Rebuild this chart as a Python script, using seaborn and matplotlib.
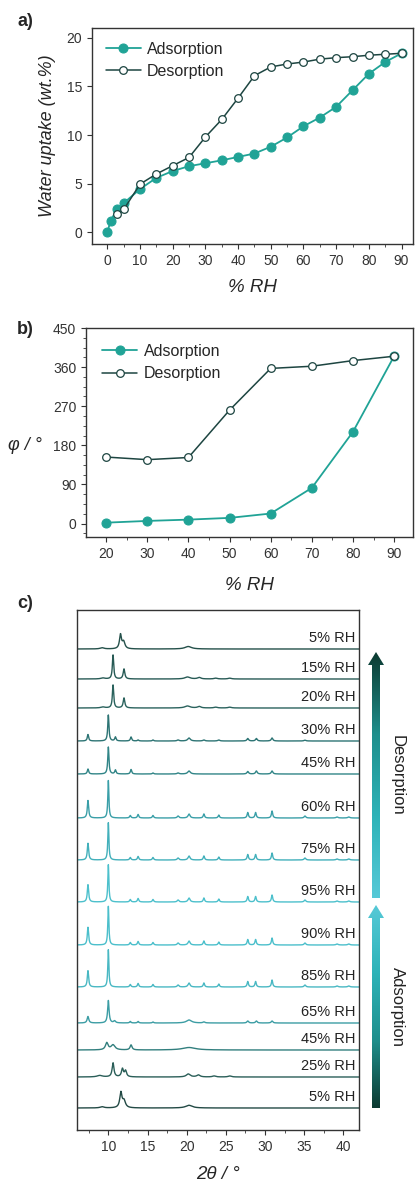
import numpy as np
import pandas as pd
import matplotlib
matplotlib.use("Agg")
import matplotlib.pyplot as plt
import seaborn as sns
from matplotlib.patches import Polygon
from matplotlib.ticker import MultipleLocator
from matplotlib.colors import LinearSegmentedColormap

sns.set_style("ticks")
plt.rcParams['font.family'] = ['Liberation Sans', 'DejaVu Sans']

# ---- a) water sorption isotherm
rh_ads = [0, 1, 3, 5, 10, 15, 20, 25, 30, 35, 40, 45, 50, 55, 60, 65, 70, 75, 80, 85, 90]
wt_ads = [0.0, 1.2, 2.4, 3.0, 4.45, 5.6, 6.3, 6.8, 7.1, 7.4, 7.75, 8.1, 8.8, 9.75, 10.9, 11.8, 12.9, 14.6, 16.3, 17.5, 18.4]
rh_des = [90, 85, 80, 75, 70, 65, 60, 55, 50, 45, 40, 35, 30, 25, 20, 15, 10, 5, 3]
wt_des = [18.4, 18.3, 18.2, 18.05, 17.95, 17.8, 17.5, 17.3, 17.0, 16.1, 13.8, 11.6, 9.8, 7.7, 6.85, 6.0, 4.95, 2.35, 1.85]

# ---- b) phi vs RH
rh_b = [20, 30, 40, 50, 60, 70, 80, 90]
phi_ads = [2, 6, 9, 13, 23, 82, 211, 385]
phi_des = [153, 147, 152, 261, 357, 362, 375, 385]

# ---- c) PXRD patterns, peak tables (2theta, height, fwhm)
labels_c = ["5% RH", "15% RH", "20% RH", "30% RH", "45% RH", "60% RH", "75% RH",
            "95% RH", "90% RH", "85% RH", "65% RH", "45% RH", "25% RH", "5% RH"]
offsets_c = [481, 451, 422, 389, 356, 312, 270, 228, 185, 143, 107, 80, 53, 22]
colors_c = ["#24504a", "#275a55", "#2a625d", "#2d7474", "#318587", "#3a9fa8", "#42b0bb",
            "#4cc0cc", "#4bbfcb", "#49b8c3", "#3c9da4", "#327f7e", "#2a5e58", "#234a45"]

pk_des5 = [(9.2, 1.2, 0.6), (11.55, 14, 0.3), (11.95, 7, 0.4), (20.2, 2.5, 1.0)]
pk_15 = [(9.3, 1, 0.6), (10.6, 24, 0.2), (12.0, 10, 0.25), (20.1, 2, 0.8), (21.6, 1.5, 0.5),
         (23.7, 0.8, 0.5), (25.5, 0.8, 0.5)]
pk_20 = [(9.3, 1, 0.6), (10.6, 23, 0.2), (12.0, 10, 0.25), (20.1, 2, 0.8), (21.6, 1.5, 0.5),
         (23.7, 0.8, 0.5), (25.5, 0.8, 0.5)]
pk_30 = [(7.4, 6.5, 0.2), (10.0, 26, 0.18), (10.9, 4, 0.2), (12.9, 4, 0.2), (13.8, 1, 0.2),
         (15.7, 1, 0.2), (18.9, 1, 0.3), (20.3, 3, 0.4), (22.2, 1, 0.3), (24.1, 1, 0.3),
         (27.8, 2.5, 0.25), (28.9, 2.5, 0.25), (30.9, 3, 0.25), (35.1, 0.8, 0.3)]
pk_45d = [(7.4, 5, 0.2), (10.0, 27, 0.18), (10.9, 4, 0.2), (12.9, 4.5, 0.2), (15.7, 1, 0.2),
          (18.9, 1, 0.3), (20.3, 3, 0.4), (27.8, 2.5, 0.25), (28.9, 3, 0.25), (30.9, 3, 0.25)]
pk_60 = [(7.4, 17.5, 0.2), (10.0, 37.5, 0.16), (12.8, 2.5, 0.2), (13.8, 3.5, 0.2), (15.7, 2.5, 0.2),
         (18.9, 2, 0.25), (20.3, 4, 0.3), (22.2, 4, 0.2), (24.1, 3, 0.2), (27.8, 5.5, 0.2),
         (28.8, 5.5, 0.2), (30.9, 7, 0.2), (35.1, 2, 0.25), (39.2, 1, 0.3), (40.7, 1, 0.3)]
pk_75 = [(7.4, 16.7, 0.2), (10.0, 37.3, 0.16), (12.8, 2.5, 0.2), (13.8, 3.5, 0.2), (15.7, 2.5, 0.2),
         (18.9, 2, 0.25), (20.3, 4, 0.3), (22.2, 4, 0.2), (24.1, 3, 0.2), (27.8, 5.5, 0.2),
         (28.8, 5.5, 0.2), (30.9, 7, 0.2), (35.1, 2, 0.25), (39.2, 1, 0.3), (40.7, 1, 0.3)]
pk_95 = [(7.4, 17.3, 0.2), (10.0, 37.3, 0.16), (12.8, 2.5, 0.2), (13.8, 3.5, 0.2), (15.7, 2.5, 0.2),
         (18.9, 2, 0.25), (20.3, 4, 0.3), (22.2, 4, 0.2), (24.1, 3, 0.2), (27.8, 5.5, 0.2),
         (28.8, 5.5, 0.2), (30.9, 7, 0.2), (35.1, 2, 0.25), (39.2, 1, 0.3), (40.7, 1, 0.3)]
pk_90 = [(7.4, 17.7, 0.2), (10.0, 38.7, 0.16), (12.8, 2.5, 0.2), (13.8, 3.5, 0.2), (15.7, 2.5, 0.2),
         (18.9, 2, 0.25), (20.3, 4, 0.3), (22.2, 4, 0.2), (24.1, 3, 0.2), (27.8, 5.5, 0.2),
         (28.8, 5.5, 0.2), (30.9, 7, 0.2), (35.1, 2, 0.25), (39.2, 1, 0.3), (40.7, 1, 0.3)]
pk_85 = [(7.4, 16.3, 0.2), (10.0, 37.3, 0.16), (12.8, 2.5, 0.2), (13.8, 3.5, 0.2), (15.7, 2.5, 0.2),
         (18.9, 2, 0.25), (20.3, 4, 0.3), (22.2, 4, 0.2), (24.1, 3, 0.2), (27.8, 5.5, 0.2),
         (28.8, 5.5, 0.2), (30.9, 7, 0.2), (35.1, 2, 0.25), (39.2, 1, 0.3), (40.7, 1, 0.3)]
pk_65 = [(7.4, 6.5, 0.25), (10.0, 22.5, 0.22), (10.8, 2, 0.3), (12.8, 1.5, 0.2), (13.8, 1.5, 0.2),
         (15.7, 1, 0.2), (20.3, 3, 0.8), (22.2, 1, 0.3), (27.8, 2, 0.25), (28.9, 2, 0.25),
         (30.9, 2, 0.25)]
pk_45a = [(9.8, 7, 0.4), (10.6, 5, 0.6), (12.9, 5, 0.3), (20.3, 2.5, 2.0)]
pk_25 = [(8.9, 1.5, 0.8), (10.6, 14, 0.28), (11.8, 8, 0.3), (12.2, 6, 0.3), (20.2, 3, 0.6),
         (21.5, 2, 0.5), (23.5, 1, 0.5), (25.5, 1, 0.5)]
pk_ads5 = [(9.2, 1.2, 0.6), (11.6, 15, 0.33), (12.0, 7, 0.45), (20.3, 2.7, 1.0)]
peaks_c = [pk_des5, pk_15, pk_20, pk_30, pk_45d, pk_60, pk_75, pk_95, pk_90, pk_85,
           pk_65, pk_45a, pk_25, pk_ads5]

c_ads = "#20a396"
c_des = "#1d4541"
W, H = 415, 1185
fig = plt.figure(figsize=(W / 100, H / 100), dpi=100)


def px_axes(l, t, r, b):
    return fig.add_axes([l / W, 1 - b / H, (r - l) / W, (b - t) / H])


def style_ax(ax):
    for s in ax.spines.values():
        s.set_linewidth(1.0)
        s.set_color("#333333")
    ax.tick_params(which="both", direction="out", labelsize=10, colors="#333333")
    ax.tick_params(which="major", length=3.5)
    ax.tick_params(which="minor", length=2)


leg_kw = dict(loc="upper left", frameon=False, fontsize=11.5, handlelength=2.2,
              handletextpad=0.4, labelspacing=0.45)

# panel a
ax1 = px_axes(92, 28, 413, 244)
sns.lineplot(x=rh_ads, y=wt_ads, ax=ax1, color=c_ads, lw=1.3, marker="o", ms=6.5,
             mec=c_ads, sort=False, label="Adsorption")
sns.lineplot(x=rh_des, y=wt_des, ax=ax1, color=c_des, lw=1.1, marker="o", ms=5.5,
             mfc="white", mec=c_des, mew=0.9, sort=False, label="Desorption")
ax1.set_xlim(-4.7, 93.5)
ax1.set_ylim(-1.2, 21)
ax1.xaxis.set_major_locator(MultipleLocator(10))
ax1.xaxis.set_minor_locator(MultipleLocator(5))
ax1.yaxis.set_major_locator(MultipleLocator(5))
style_ax(ax1)
ax1.set_xlabel("% RH", fontsize=13.5, style="italic", labelpad=8)
ax1.set_ylabel("Water uptake (wt.%)", fontsize=13, style="italic")
ax1.yaxis.set_label_coords(-0.112, 0.5)
ax1.legend(borderaxespad=0.45, **leg_kw)

# panel b
ax2 = px_axes(86, 328, 413, 537)
sns.lineplot(x=rh_b, y=phi_ads, ax=ax2, color=c_ads, lw=1.3, marker="o", ms=6.5,
             mec=c_ads, sort=False, label="Adsorption")
sns.lineplot(x=rh_b, y=phi_des, ax=ax2, color=c_des, lw=1.1, marker="o", ms=5.5,
             mfc="white", mec=c_des, mew=0.9, sort=False, label="Desorption")
ax2.set_xlim(15.1, 94.6)
ax2.set_ylim(-31, 450)
ax2.xaxis.set_major_locator(MultipleLocator(10))
ax2.xaxis.set_minor_locator(MultipleLocator(5))
ax2.yaxis.set_major_locator(MultipleLocator(90))
ax2.yaxis.set_minor_locator(MultipleLocator(22.5))
style_ax(ax2)
ax2.set_xlabel("% RH", fontsize=13.5, style="italic", labelpad=12)
ax2.set_ylabel("")
fig.text(8 / W, 1 - 445 / H, "φ / °", fontsize=13, style="italic", ha="left", va="center")
ax2.legend(borderaxespad=0.6, **leg_kw)

# panel c
ax3 = px_axes(77, 610, 359, 1130)
tt = np.linspace(6, 42, 1800)
for lab, off, col, pks in zip(labels_c, offsets_c, colors_c, peaks_c):
    yy = np.full_like(tt, float(off))
    for p, h, w in pks:
        yy += h / (1 + ((tt - p) / (w / 2)) ** 2)
    sns.lineplot(x=tt, y=yy, ax=ax3, color=col, lw=1.0, sort=False, estimator=None)
    ax3.text(41.6, off + 11, lab, ha="right", va="center", fontsize=10.5, color="#222222")
ax3.set_xlim(6, 42)
ax3.set_ylim(0, 520)
ax3.set_yticks([])
ax3.xaxis.set_major_locator(MultipleLocator(5))
ax3.xaxis.set_minor_locator(MultipleLocator(2.5))
ax3.xaxis.set_major_formatter(plt.FuncFormatter(lambda v, _: "" if v < 9 else f"{v:.0f}"))
style_ax(ax3)
ax3.set_xlabel("2θ / °", fontsize=13.5, style="italic", labelpad=9)
ax3.set_ylabel("")

# gradient arrows
ov = fig.add_axes([0, 0, 1, 1])
ov.set_xlim(0, W)
ov.set_ylim(H, 0)
ov.axis("off")
cm = LinearSegmentedColormap.from_list("g", ["#0c3a31", "#1f8f8c", "#2db3b8", "#56c9d7"])
grad = np.linspace(0, 1, 256).reshape(-1, 1)


def grad_arrow(y_top, y_bot, dark_top):
    xc = 376
    head = 13
    pts = [(xc - 4, y_bot), (xc - 4, y_top + head), (xc - 8, y_top + head), (xc, y_top),
           (xc + 8, y_top + head), (xc + 4, y_top + head), (xc + 4, y_bot)]
    poly = Polygon(pts, closed=True, facecolor="none", edgecolor="none")
    ov.add_patch(poly)
    g = grad if dark_top else grad[::-1]
    im = ov.imshow(g, cmap=cm, aspect="auto", extent=(xc - 9, xc + 9, y_bot, y_top),
                   origin="upper", zorder=2)
    im.set_clip_path(poly)


grad_arrow(652, 898, True)
grad_arrow(905, 1108, False)
ov.set_xlim(0, W)
ov.set_ylim(H, 0)
ov.text(397, 775, "Desorption", rotation=270, ha="center", va="center", fontsize=12, color="#222222")
ov.text(397, 1007, "Adsorption", rotation=270, ha="center", va="center", fontsize=12, color="#222222")

for lab, y in [("a)", 22), ("b)", 330), ("c)", 604)]:
    fig.text(17 / W, 1 - y / H, lab, fontsize=13, fontweight="bold", ha="left", va="center")

fig.savefig("out.png", dpi=100)
